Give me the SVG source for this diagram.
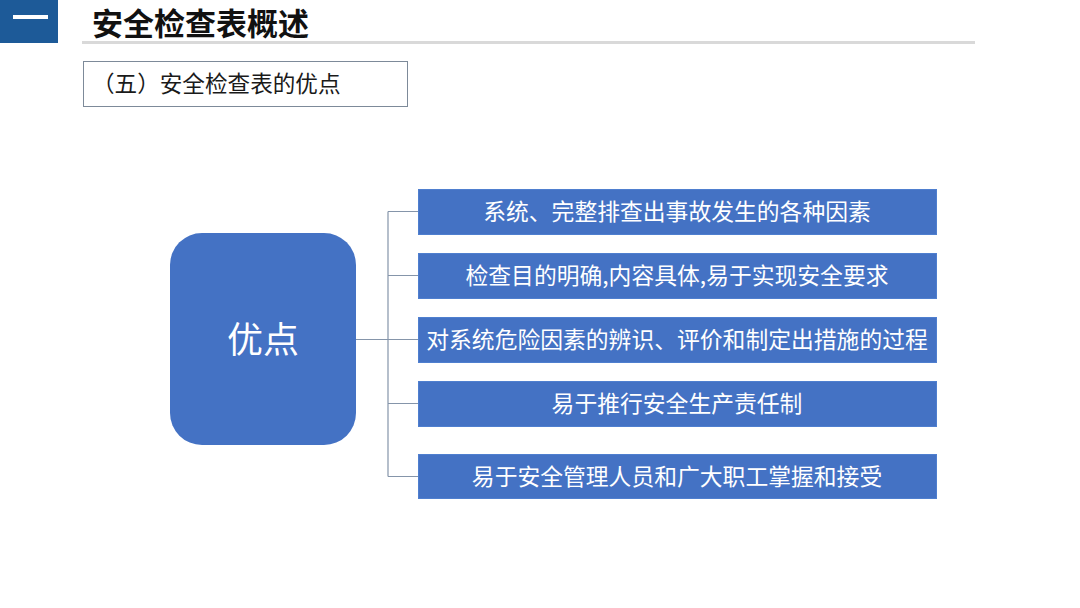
<svg xmlns="http://www.w3.org/2000/svg" width="1080" height="608" viewBox="0 0 1080 608">
<defs>
<style>
.cjk{font-family:"Noto Sans CJK SC","Noto Sans",sans-serif;}
.item rect{fill:#4472C4;stroke:#4f7fcf;stroke-width:1;}
.item text{fill:#ffffff;font-size:22.8px;text-anchor:middle;}
.conn{stroke:#8595aa;stroke-width:1.2;fill:none;}
</style>
</defs>
<rect width="1080" height="608" fill="#ffffff"/>
<g id="header">
<rect x="0" y="0" width="58" height="43" fill="#1d5a98"/>
<rect x="13" y="15" width="35" height="4" fill="#ffffff"/>
<text class="cjk" x="92" y="35" font-size="31" font-weight="bold" fill="#111111">安全检查表概述</text>
<rect x="82" y="41" width="893" height="3" fill="#d9d9d9"/>
</g>
<g id="subtitle">
<rect x="83.5" y="61.5" width="324" height="45" fill="#ffffff" stroke="#7d8a99" stroke-width="1"/>
<text class="cjk" x="92" y="92" font-size="22.6" fill="#1a1a1a">（五）安全检查表的优点</text>
</g>
<g id="connectors">
<path class="conn" d="M356 339.5H418 M388 211.5V476.5 M388 211.5H418 M388 275.5H418 M388 403.5H418 M388 476.5H418"/>
</g>
<g id="main">
<rect x="170" y="233" width="186" height="212" rx="32" ry="32" fill="#4472C4"/>
<text class="cjk" x="263" y="353" font-size="36" fill="#ffffff" text-anchor="middle">优点</text>
</g>
<g id="item1" class="item cjk">
<rect x="418.5" y="189.5" width="518" height="45"/>
<text x="677" y="220">系统、完整排查出事故发生的各种因素</text>
</g>
<g id="item2" class="item cjk">
<rect x="418.5" y="253.5" width="518" height="45"/>
<text x="677" y="284">检查目的明确,内容具体,易于实现安全要求</text>
</g>
<g id="item3" class="item cjk">
<rect x="418.5" y="317.5" width="518" height="45"/>
<text x="677" y="348">对系统危险因素的辨识、评价和制定出措施的过程</text>
</g>
<g id="item4" class="item cjk">
<rect x="418.5" y="381.5" width="518" height="45"/>
<text x="677" y="412">易于推行安全生产责任制</text>
</g>
<g id="item5" class="item cjk">
<rect x="418.5" y="454.5" width="518" height="44"/>
<text x="677" y="485">易于安全管理人员和广大职工掌握和接受</text>
</g>
</svg>
